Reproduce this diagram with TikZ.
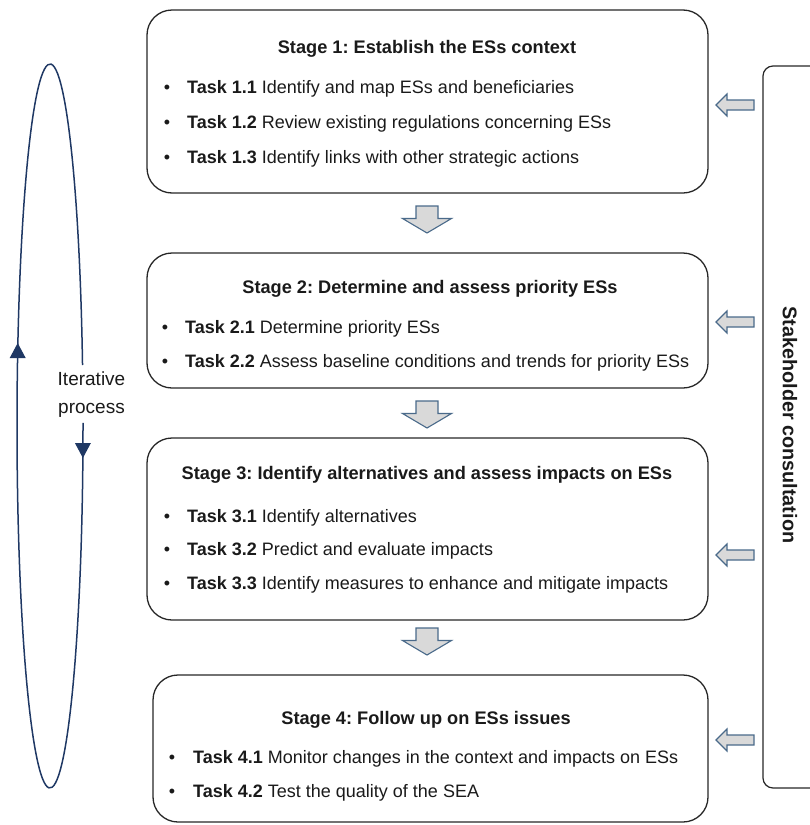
\documentclass[tikz,border=0pt]{standalone}
\usepackage{fontspec}
\setmainfont{Liberation Sans}
\usetikzlibrary{calc}
\definecolor{navy}{HTML}{1F3864}
\definecolor{arrowfill}{HTML}{D9D9D9}
\definecolor{arrowline}{HTML}{4A6A8A}
\definecolor{boxline}{HTML}{262626}
\definecolor{txt}{HTML}{1A1A1A}
\frenchspacing
\begin{document}
\begin{tikzpicture}[x=1pt,y=1pt,
  stagebox/.style={draw=boxline, line width=1.3pt, rounded corners=25pt, inner sep=0pt},
  shbox/.style={draw=boxline, line width=1.2pt, rounded corners=10pt, inner sep=0pt},
  txtnode/.style={inner sep=0pt, text=txt, font=\fontsize{18}{21}\selectfont},
  heading/.style={txtnode, anchor=base, font=\fontsize{18.2}{21}\selectfont\bfseries},
  tasktext/.style={txtnode, anchor=base west},
  bulletnode/.style={txtnode, anchor=base},
  blockarrow/.style={fill=arrowfill, draw=arrowline, line width=1.1pt, line join=miter},
  cycleline/.style={draw=navy, line width=1.5pt},
  downarrow/.pic={\path[blockarrow] (0,0) -- (-24.5,14.5) -- (-11,14.5) -- (-11,27) -- (11,27) -- (11,14.5) -- (24.5,14.5) -- cycle;},
  leftarrow/.pic={\path[blockarrow] (0,0) -- (11,11) -- (11,5) -- (38,5) -- (38,-5) -- (11,-5) -- (11,-11) -- cycle;}
]
\useasboundingbox (0,0) rectangle (810,-825);
\clip (0,0) rectangle (810,-825);

% stage boxes
\node[stagebox, minimum width=561pt, minimum height=183pt] (s1) at (427.5,-101.5) {};
\node[stagebox, minimum width=561pt, minimum height=135pt] (s2) at (427.5,-320.5) {};
\node[stagebox, minimum width=561pt, minimum height=182pt] (s3) at (427.5,-529) {};
\node[stagebox, minimum width=555pt, minimum height=147pt] (s4) at (430.5,-748.5) {};

% stakeholder box
\node[shbox, minimum width=94pt, minimum height=722pt] (sh) at (810,-427) {};
\node[txtnode, rotate=-90, font=\fontsize{19.8}{22}\selectfont\bfseries] (shtext) at (790,-425) {Stakeholder consultation};

% stage 1
\node[heading] (h1) at (427,-53.5) {Stage 1: Establish the ESs context};
\node[bulletnode] (b11) at (167,-93.5) {•};
\node[tasktext] (t11) at (187,-93.5) {\textbf{Task 1.1} Identify and map ESs and beneficiaries};
\node[bulletnode] (b12) at (167,-128.5) {•};
\node[tasktext] (t12) at (187,-128.5) {\textbf{Task 1.2} Review existing regulations concerning ESs};
\node[bulletnode] (b13) at (167,-163.5) {•};
\node[tasktext] (t13) at (187,-163.5) {\textbf{Task 1.3} Identify links with other strategic actions};

% stage 2
\node[heading] (h2) at (430,-293.5) {Stage 2: Determine and assess priority ESs};
\node[bulletnode] (b21) at (165,-333.5) {•};
\node[tasktext] (t21) at (185,-333.5) {\textbf{Task 2.1} Determine priority ESs};
\node[bulletnode] (b22) at (165,-367.5) {•};
\node[tasktext] (t22) at (185,-367.5) {\textbf{Task 2.2} Assess baseline conditions and trends for priority ESs};

% stage 3
\node[heading] (h3) at (427,-479.5) {Stage 3: Identify alternatives and assess impacts on ESs};
\node[bulletnode] (b31) at (167,-522.5) {•};
\node[tasktext] (t31) at (187,-522.5) {\textbf{Task 3.1} Identify alternatives};
\node[bulletnode] (b32) at (167,-555.5) {•};
\node[tasktext] (t32) at (187,-555.5) {\textbf{Task 3.2} Predict and evaluate impacts};
\node[bulletnode] (b33) at (167,-589.5) {•};
\node[tasktext] (t33) at (187,-589.5) {\textbf{Task 3.3} Identify measures to enhance and mitigate impacts};

% stage 4
\node[heading] (h4) at (426,-724.5) {Stage 4: Follow up on ESs issues};
\node[bulletnode] (b41) at (172,-763.5) {•};
\node[tasktext] (t41) at (193,-763.5) {\textbf{Task 4.1} Monitor changes in the context and impacts on ESs};
\node[bulletnode] (b42) at (172,-797.5) {•};
\node[tasktext] (t42) at (193,-797.5) {\textbf{Task 4.2} Test the quality of the SEA};

% block arrows between stages
\pic at (427,-233) {downarrow};
\pic at (427,-428) {downarrow};
\pic at (427,-655) {downarrow};

% block arrows from stakeholder consultation
\pic at (716,-105) {leftarrow};
\pic at (716,-322) {leftarrow};
\pic at (716,-555) {leftarrow};
\pic at (716,-740) {leftarrow};

% iterative cycle
\draw[cycleline] (82.53,-365) arc[start angle=9.7, end angle=360.5, x radius=33pt, y radius=362pt];
\fill[navy] (17.7,-343) -- (9.7,-358) -- (25.7,-358) -- cycle;
\fill[navy] (82.9,-458) -- (74.9,-443) -- (90.9,-443) -- cycle;
\node[txtnode, align=center, font=\fontsize{19}{28}\selectfont] (iter) at (91.5,-395) {Iterative\\process};
\end{tikzpicture}
\end{document}
